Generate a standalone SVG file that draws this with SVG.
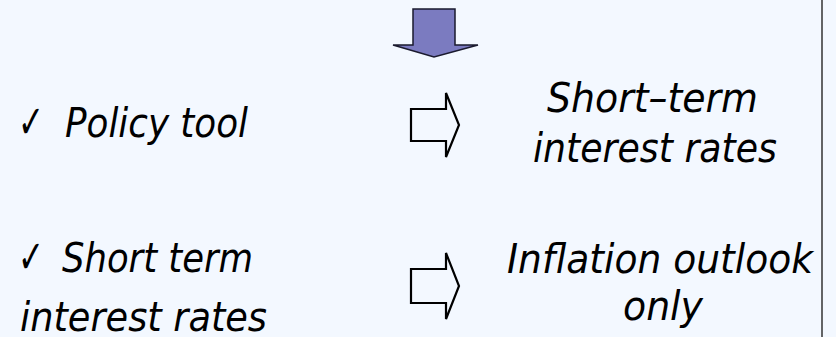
<svg xmlns="http://www.w3.org/2000/svg" width="836" height="337" viewBox="0 0 836 337">
<style>
.t{font-family:"DejaVu Sans Condensed","DejaVu Sans",sans-serif;font-style:italic;font-size:40px;fill:#000}
.ck{font-family:"DejaVu Sans",sans-serif;font-size:46px;fill:#000}
.hollow{fill:none;stroke:#000;stroke-width:2.2;stroke-linejoin:miter}
</style>
<rect x="0" y="0" width="836" height="337" fill="#F3F8FF"/>
<line x1="822" y1="0" x2="822" y2="337" stroke="#333" stroke-width="1.5"/>
<g id="down-arrow">
<polygon points="413,9 455,9 455,45 478,45 434,57 393,45 413,45" fill="#7B7BC0" stroke="#1a1a2e" stroke-width="1.5"/>
</g>
<g id="left-1">
<text class="ck" x="18" y="138" textLength="26" lengthAdjust="spacingAndGlyphs">✓</text>
<text class="t" x="65" y="137" textLength="183" lengthAdjust="spacingAndGlyphs">Policy tool</text>
</g>
<g id="left-2">
<text class="ck" x="18" y="273" textLength="26" lengthAdjust="spacingAndGlyphs">✓</text>
<text class="t" x="62" y="272" textLength="191" lengthAdjust="spacingAndGlyphs">Short term</text>
<text class="t" x="20" y="331" textLength="247" lengthAdjust="spacingAndGlyphs">interest rates</text>
</g>
<g id="right-1">
<text class="t" x="547" y="112" textLength="211" lengthAdjust="spacingAndGlyphs">Short–term</text>
<text class="t" x="533" y="162" textLength="244" lengthAdjust="spacingAndGlyphs">interest rates</text>
</g>
<g id="right-2">
<text class="t" x="507" y="273" textLength="306" lengthAdjust="spacingAndGlyphs">Inflation outlook</text>
<text class="t" x="623" y="320" textLength="80" lengthAdjust="spacingAndGlyphs">only</text>
</g>
<g id="connectors">
<polygon class="hollow" points="411,109 446,109 446,93 459,125 446,157 446,141 411,141"/>
<polygon class="hollow" points="411,269 446,269 446,253 459,286 446,319 446,303 411,303"/>
</g>
</svg>
